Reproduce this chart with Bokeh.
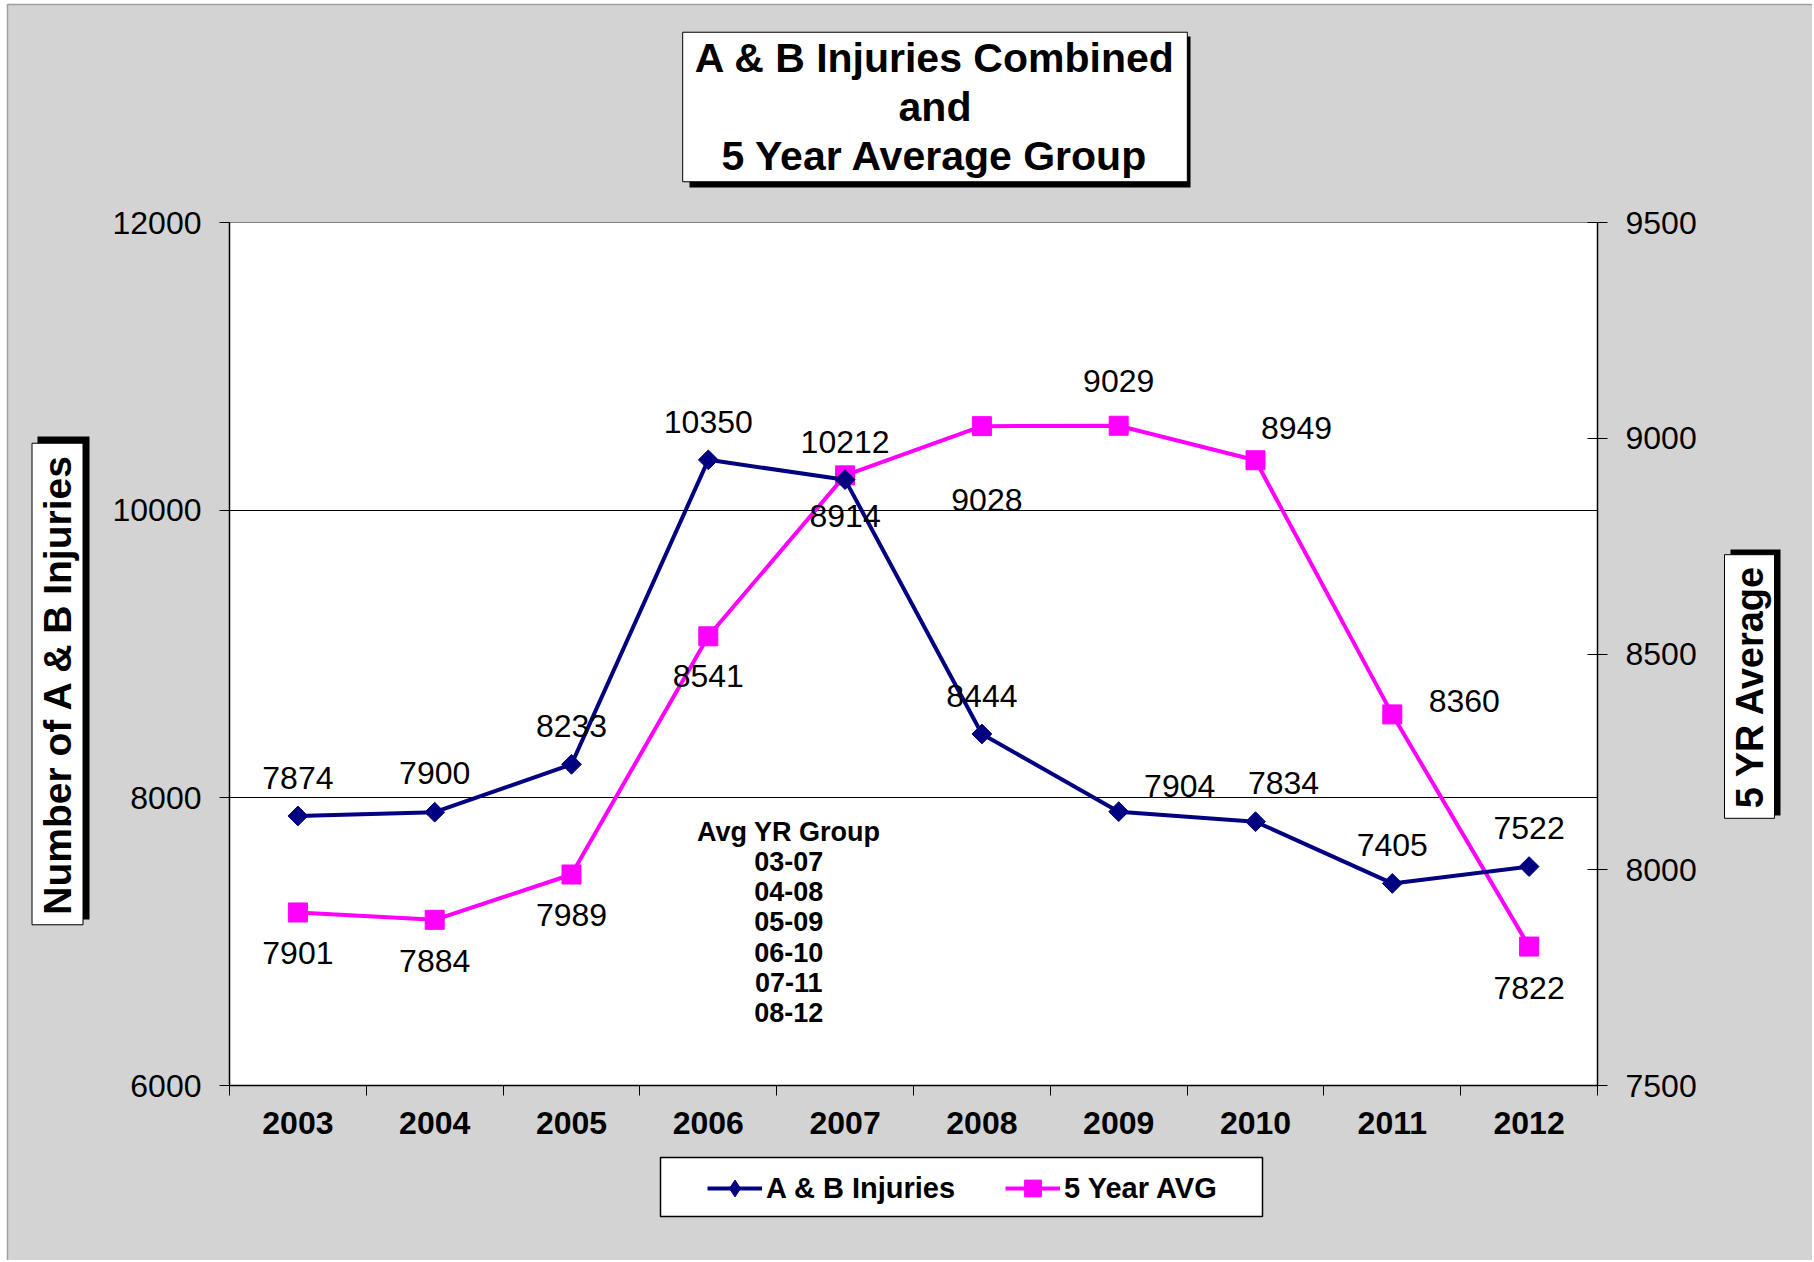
import math
from bokeh.plotting import figure
from bokeh.models import (Range1d, LinearAxis, FixedTicker, ColumnDataSource,
                          Label, Legend, LegendItem)
from bokeh.embed import file_html
from bokeh.resources import INLINE
from bokeh.core.properties import value

# ---------------- data ----------------
years = ["2003", "2004", "2005", "2006", "2007", "2008", "2009", "2010", "2011", "2012"]
ab_injuries = [7874, 7900, 8233, 10350, 10212, 8444, 7904, 7834, 7405, 7522]
five_year_avg = [7901, 7884, 7989, 8541, 8914, 9028, 9029, 8949, 8360, 7822]
avg_groups = ["03-07", "04-08", "05-09", "06-10", "07-11", "08-12"]
left_ticks = [6000, 8000, 10000, 12000]
right_ticks = [7500, 8000, 8500, 9000, 9500]

title_text = "A & B Injuries Combined\nand\n5 Year Average Group"
left_title = "Number of A & B Injuries"
right_title = "5 YR Average"
series_names = ["A & B Injuries", "5 Year AVG"]

# data-label offsets in screen pixels (x right, y down)
ab_label_dx = [0, 0, 0, 0, 0, 0, 61, 28, 0, 0]
ab_label_dy = [-38, -39, -38, -38, -38, -38, -26, -39, -38, -39]
avg_label_dx = [0, 0, 0, 0, 0, 5, 0, 41, 72, 0]
avg_label_dy = [41, 41, 41, 40, 41, 74, -45, -32, -13, 41]

FONT = "Liberation Sans"
NAVY = "#000080"
MAGENTA = "#ff00ff"
BG = "#d3d3d3"
W, H = 1812, 1260
NUM_SIZE = "32px"

n = len(years)
xpos = [i + 0.5 for i in range(n)]

AB_LINE = dict(line_color=NAVY, line_width=4)
AB_MARK = dict(marker="square", angle=math.pi / 4, size=14, fill_color=NAVY, line_color=NAVY)
AVG_LINE = dict(line_color=MAGENTA, line_width=4)
AVG_MARK = dict(marker="square", size=19, fill_color=MAGENTA, line_color=MAGENTA)

# ---------------- background canvas (chart area, boxed titles, legend) ----------------
# pixel coordinates, y downwards
bg = figure(width=W, height=H, output_backend="svg", toolbar_location=None,
            x_range=Range1d(0, W), y_range=Range1d(H, 0),
            x_axis_type=None, y_axis_type=None,
            min_border_left=0, min_border_right=0, min_border_top=0, min_border_bottom=0)
bg.grid.visible = False
bg.outline_line_color = None
bg.background_fill_color = "white"
bg.border_fill_color = "white"
bg.quad(left=[7], right=[W + 5], top=[4], bottom=[H + 5], fill_color=BG,
        line_color="#a0a0a0", line_width=1.5)

# drop shadows of the boxed texts
bg.quad(left=[689, 37, 1730], right=[1190, 89, 1780], top=[36, 436, 549],
        bottom=[187, 919, 815], fill_color="black", line_color=None)
# legend frame
bg.quad(left=[660], right=[1262], top=[1157], bottom=[1216], fill_color="white",
        line_color="black", line_width=1.5)

def boxed(text, x, y, size, angle, pad, line_height=1.2):
    bg.add_layout(Label(x=x, y=y, text=text, text_font=FONT, text_font_size=size,
                        text_font_style="bold", text_align="center", text_baseline="middle",
                        angle=angle, padding=pad, text_line_height=line_height,
                        text_color="black", background_fill_color="white",
                        border_line_color="black", border_line_width=1))

boxed(title_text, 934.5, 106.5, "41px", 0, (12, 3), line_height=1.06)
boxed(left_title, 57, 683.5, "39px", math.pi / 2, (10, 4))
boxed(right_title, 1749, 686, "38px", math.pi / 2, (10, 4))

# legend: sample renderers sit outside the visible canvas, only their legend glyphs show
off = dict(x=[-200, -100], y=[-200, -200])
lg_ab_line = bg.line(**off, **AB_LINE)
lg_ab_mark = bg.scatter(**off, marker="diamond", fill_color=NAVY, line_color=NAVY)
lg_avg_line = bg.line(**off, **AVG_LINE)
lg_avg_mark = bg.scatter(**off, **AVG_MARK)
legend = Legend(items=[LegendItem(label=series_names[0], renderers=[lg_ab_line, lg_ab_mark]),
                       LegendItem(label=series_names[1], renderers=[lg_avg_line, lg_avg_mark])],
                location=(707, 51), orientation="horizontal",
                label_text_font=FONT, label_text_font_size="29px",
                label_text_font_style="bold", label_text_color="black",
                glyph_width=55, glyph_height=42, label_standoff=4, spacing=50,
                padding=5, border_line_color=None, background_fill_alpha=0)
bg.add_layout(legend)

# ---------------- main chart ----------------
p = figure(width=W, height=H, output_backend="svg", toolbar_location=None,
           x_range=Range1d(0, n), y_range=Range1d(left_ticks[0], left_ticks[-1]),
           min_border_left=229, min_border_right=W - 229 - 1368, min_border_top=222,
           min_border_bottom=H - 222 - 863)
p.styles = {"position": "absolute", "left": "0px", "top": "0px"}
p.extra_y_ranges = {"avg": Range1d(right_ticks[0], right_ticks[-1])}
p.background_fill_color = "white"
p.border_fill_alpha = 0
p.outline_line_color = "#808080"
p.outline_line_width = 1

p.xgrid.grid_line_color = None
p.ygrid.grid_line_color = "black"
p.ygrid.grid_line_width = 1
p.ygrid.ticker = FixedTicker(ticks=left_ticks)

xa = p.xaxis[0]
xa.ticker = FixedTicker(ticks=xpos, minor_ticks=list(range(n + 1)))
xa.major_label_overrides = {xv: yr for xv, yr in zip(xpos, years)}
xa.major_tick_line_color = None
xa.major_tick_out = 10
xa.major_tick_in = 0
xa.minor_tick_line_color = "black"
xa.minor_tick_out = 10
xa.minor_tick_in = 0
xa.minor_tick_line_width = 1
xa.major_label_standoff = 16
xa.major_label_text_font = FONT
xa.major_label_text_font_size = NUM_SIZE
xa.major_label_text_font_style = "bold"
xa.major_label_text_color = "black"
xa.axis_line_color = "black"
xa.axis_line_width = 1.5

ya = p.yaxis[0]
ya.ticker = FixedTicker(ticks=left_ticks)
ya.minor_tick_line_color = None
ya.major_tick_out = 10
ya.major_tick_in = 0
ya.major_tick_line_color = "black"
ya.major_label_standoff = 18
ya.major_label_text_font = FONT
ya.major_label_text_font_size = NUM_SIZE
ya.major_label_text_color = "black"
ya.axis_line_color = "black"
ya.axis_line_width = 1.5

ra = LinearAxis(y_range_name="avg", ticker=FixedTicker(ticks=right_ticks))
ra.minor_tick_line_color = None
ra.major_tick_out = 10
ra.major_tick_in = 10
ra.major_tick_line_color = "black"
ra.major_label_standoff = 18
ra.major_label_text_font = FONT
ra.major_label_text_font_size = NUM_SIZE
ra.major_label_text_color = "black"
ra.axis_line_color = "black"
ra.axis_line_width = 1.5
p.add_layout(ra, "right")

ab_src = ColumnDataSource(dict(x=xpos, y=ab_injuries, label=[str(v) for v in ab_injuries],
                               dx=ab_label_dx, dy=ab_label_dy))
avg_src = ColumnDataSource(dict(x=xpos, y=five_year_avg, label=[str(v) for v in five_year_avg],
                                dx=avg_label_dx, dy=avg_label_dy))

p.line("x", "y", source=avg_src, y_range_name="avg", **AVG_LINE)
p.scatter("x", "y", source=avg_src, y_range_name="avg", **AVG_MARK)
p.line("x", "y", source=ab_src, **AB_LINE)
p.scatter("x", "y", source=ab_src, **AB_MARK)

p.text("x", "y", text="label", x_offset="dx", y_offset="dy", source=ab_src,
       text_font=value(FONT), text_font_size=NUM_SIZE, text_align="center",
       text_baseline="middle", text_color="black")
p.text("x", "y", text="label", x_offset="dx", y_offset="dy", source=avg_src, y_range_name="avg",
       text_font=value(FONT), text_font_size=NUM_SIZE, text_align="center",
       text_baseline="middle", text_color="black")

p.add_layout(Label(x=4.088, y=7134, text="\n".join(["Avg YR Group"] + avg_groups),
                   text_font=FONT, text_font_size="27px", text_font_style="bold",
                   text_align="center", text_baseline="middle", text_line_height=1.008,
                   text_color="black"))

open("out.html", "w").write(file_html([bg, p], INLINE))
